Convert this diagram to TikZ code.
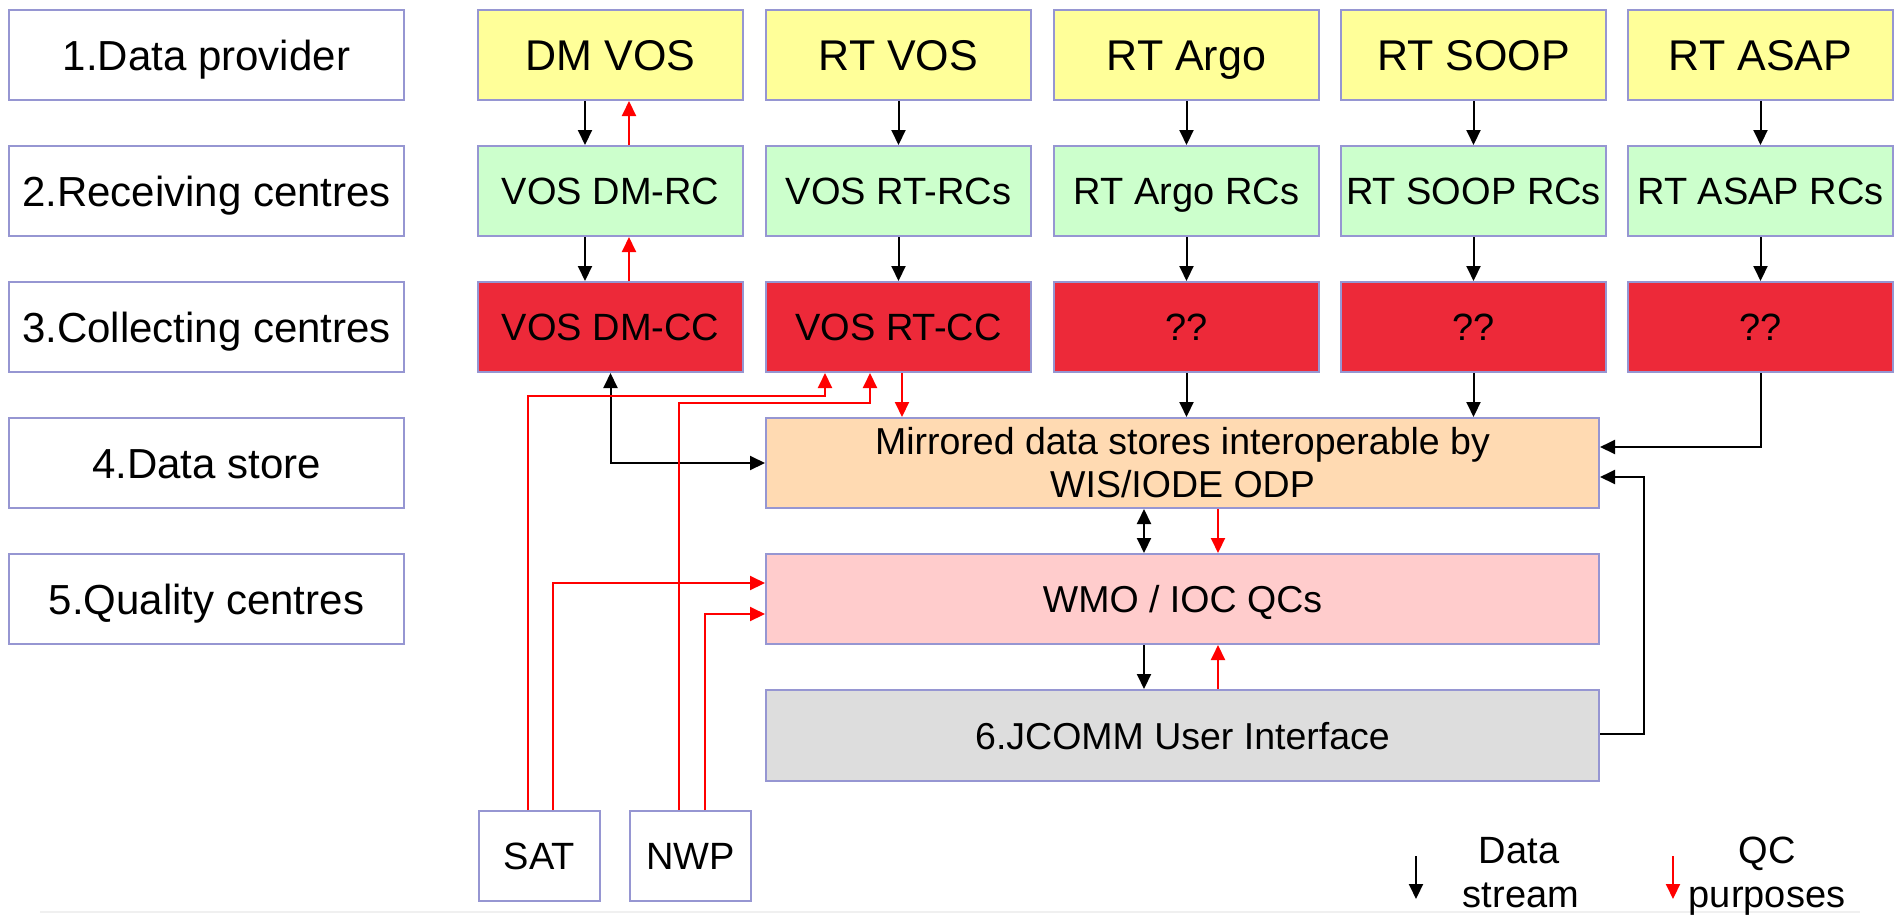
\documentclass[tikz,border=0pt]{standalone}
\usepackage{fontspec}
\setmainfont{Liberation Sans}
\usetikzlibrary{arrows.meta}
\definecolor{bord}{RGB}{150,150,210}
\definecolor{yel}{RGB}{255,255,153}
\definecolor{grn}{RGB}{204,255,204}
\definecolor{ccred}{RGB}{237,41,57}
\definecolor{peach}{RGB}{255,218,178}
\definecolor{pinkq}{RGB}{255,204,204}
\definecolor{grayui}{RGB}{221,221,221}
\definecolor{qcred}{RGB}{255,0,0}
\definecolor{faint}{RGB}{240,240,240}
\begin{document}
\begin{tikzpicture}[x=1pt,y=-1pt,
  box/.style={draw=bord, line width=2pt, inner sep=0pt, anchor=north west, align=center},
  labelbox/.style={box, fill=white, minimum width=395pt, minimum height=90pt,
    font=\fontsize{42}{48}\selectfont, text height=30pt, text depth=0pt},
  topbox/.style={box, fill=yel, minimum width=265pt, minimum height=90pt,
    font=\fontsize{43}{49}\selectfont, text height=31pt, text depth=0pt},
  rcbox/.style={box, fill=grn, minimum width=265pt, minimum height=90pt,
    font=\fontsize{38}{44}\selectfont, text height=27pt, text depth=0pt},
  ccbox/.style={box, fill=ccred, minimum width=265pt, minimum height=90pt,
    font=\fontsize{38}{44}\selectfont, text height=27pt, text depth=0pt},
  widebox/.style={box, minimum width=833pt, minimum height=90pt,
    font=\fontsize{37.5}{43}\selectfont},
  srcbox/.style={box, fill=white, minimum width=121pt, minimum height=90pt,
    font=\fontsize{38}{44}\selectfont, text height=27pt, text depth=0pt},
  legtext/.style={inner sep=0pt, anchor=base, font=\fontsize{38}{44}\selectfont},
  ds/.style={line width=2pt, draw=black, -{Triangle[width=14pt,length=15pt]}},
  dsboth/.style={line width=2pt, draw=black, {Triangle[width=14pt,length=15pt]}-{Triangle[width=14pt,length=15pt]}},
  qc/.style={line width=2pt, draw=qcred, -{Triangle[width=14pt,length=15pt]}}
]
\useasboundingbox (0,0) rectangle (1898,914);
\fill[white] (0,0) rectangle (1898,914);
\draw[faint, line width=2pt] (40,912) -- (1860,912);

% left labels
\node[labelbox] (l1) at (8,9) {1.Data provider};
\node[labelbox] (l2) at (8,145) {2.Receiving centres};
\node[labelbox] (l3) at (8,281) {3.Collecting centres};
\node[labelbox] (l4) at (8,417) {4.Data store};
\node[labelbox] (l5) at (8,553) {5.Quality centres};

% row 1
\node[topbox] (p1) at (477,9) {DM VOS};
\node[topbox] (p2) at (765,9) {RT VOS};
\node[topbox] (p3) at (1053,9) {RT Argo};
\node[topbox] (p4) at (1340,9) {RT SOOP};
\node[topbox] (p5) at (1627,9) {RT ASAP};
% row 2
\node[rcbox] (r1) at (477,145) {VOS DM-RC};
\node[rcbox] (r2) at (765,145) {VOS RT-RCs};
\node[rcbox] (r3) at (1053,145) {RT Argo RCs};
\node[rcbox] (r4) at (1340,145) {RT SOOP RCs};
\node[rcbox] (r5) at (1627,145) {RT ASAP RCs};
% row 3
\node[ccbox] (c1) at (477,281) {VOS DM-CC};
\node[ccbox] (c2) at (765,281) {VOS RT-CC};
\node[ccbox] (c3) at (1053,281) {??};
\node[ccbox] (c4) at (1340,281) {??};
\node[ccbox] (c5) at (1627,281) {??};

% wide boxes
\node[widebox, fill=peach] (ms) at (765,417) {Mirrored data stores interoperable by\\WIS/IODE ODP};
\node[widebox, fill=pinkq, text height=27pt, text depth=0pt] (qcs) at (765,553) {WMO / IOC QCs};
\node[widebox, fill=grayui, minimum height=91pt, text height=27pt, text depth=0pt] (ui) at (765,689) {6.JCOMM User Interface};

% sources
\node[srcbox] (sat) at (478,810) {SAT};
\node[srcbox] (nwp) at (629,810) {NWP};

% row1 -> row2, row2 -> row3
\draw[ds] (p1.south -| 585,0) -- (r1.north -| 585,0);
\draw[qc] (r1.north -| 629,0) -- (p1.south -| 629,0);
\draw[ds] (r1.south -| 585,0) -- (c1.north -| 585,0);
\draw[qc] (c1.north -| 629,0) -- (r1.south -| 629,0);
\foreach \i in {2,3,4,5}{
  \draw[ds] (p\i.south) -- (r\i.north);
  \draw[ds] (r\i.south) -- (c\i.north);
}

% row3 -> data store
\draw[dsboth] (c1.south) |- (ms.west);
\draw[qc] (c2.south -| 902,0) -- (ms.north -| 902,0);
\draw[ds] (c3.south) -- (ms.north -| c3.south);
\draw[ds] (c4.south) -- (ms.north -| c4.south);
\draw[ds] (c5.south) |- (ms.east |- 0,447);
\draw[ds] (ui.east |- 0,734) -- (1644,734) |- (ms.east |- 0,477);

% data store <-> QCs <-> UI
\draw[dsboth] (ms.south -| 1144,0) -- (qcs.north -| 1144,0);
\draw[qc] (ms.south -| 1218,0) -- (qcs.north -| 1218,0);
\draw[ds] (qcs.south -| 1144,0) -- (ui.north -| 1144,0);
\draw[qc] (ui.north -| 1218,0) -- (qcs.south -| 1218,0);

% SAT / NWP feeds
\draw[qc] (sat.north -| 528,0) -- (528,396) -| (c2.south -| 825,0);
\draw[qc] (sat.north -| 553,0) |- (qcs.west |- 0,583);
\draw[qc] (nwp.north -| 679,0) -- (679,403) -| (c2.south -| 870,0);
\draw[qc] (nwp.north -| 705,0) |- (qcs.west |- 0,614);

% legend
\coordinate (lg1a) at (1416,856);
\coordinate (lg1b) at (1416,899);
\coordinate (lg2a) at (1673,856);
\coordinate (lg2b) at (1673,899);
\draw[ds] (lg1a) -- (lg1b);
\draw[qc] (lg2a) -- (lg2b);
\node[legtext] (ld1) at (1519,863) {Data};
\node[legtext] (ld2) at (1521,907) {stream};
\node[legtext] (lq1) at (1767,863) {QC};
\node[legtext] (lq2) at (1767,907) {purposes};
\end{tikzpicture}
\end{document}
